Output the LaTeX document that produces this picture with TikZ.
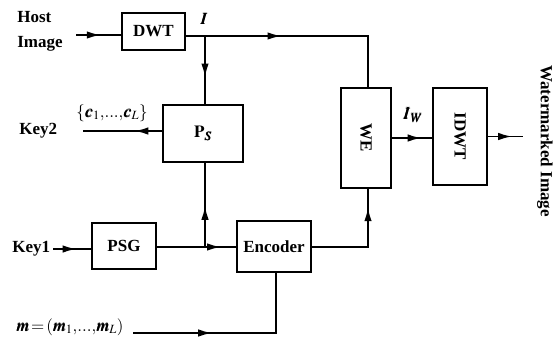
\documentclass[tikz,border=0pt]{standalone}
\usepackage{mathptmx}
\usepackage{bm}
\usepackage{fontspec}
\setmainfont{Liberation Serif}
\usetikzlibrary{arrows.meta, decorations.markings}

\begin{document}
\begin{tikzpicture}[x=1pt, y=-1pt, line width=1.9pt, font=\fontsize{17}{19}\selectfont\bfseries,
  blk/.style={draw, inner sep=0pt},
  arr/.style={postaction={decorate}, decoration={markings, mark=at position #1 with {\arrow{Latex[length=14pt,width=7.5pt]}}}}]
\useasboundingbox (0,0) rectangle (556,341);
\node[blk, minimum width=63pt, minimum height=37pt] (dwt) at (153.5,31.5) {DWT};
\node[blk, minimum width=80pt, minimum height=57pt] (ps) at (203,133.5) {$\mathbf{P}_{\bm{S}}$};
\node[blk, minimum width=50pt, minimum height=100pt] (we) at (366,138) {\rotatebox{-90}{WE}};
\node[blk, minimum width=54pt, minimum height=97pt] (idwt) at (460,136.5) {\rotatebox{-90}{IDWT}};
\node[blk, minimum width=64pt, minimum height=46pt] (psg) at (124,246) {PSG};
\node[blk, minimum width=74pt, minimum height=51pt] (enc) at (274,246.5) {Encoder};
\node[anchor=west] (host) at (13,17) {Host};
\node[anchor=west] (img) at (13,44) {Image};
\node (ilbl) at (204,19) {$\bm{I}$};
\node (clbl) at (112,113) {$\{\bm{c}_1,\!...,\!\bm{c}_L\}$};
\node[anchor=west] (key2) at (15,131) {Key2};
\node (iwlbl) at (413,115) {$\bm{I}_{\bm{W}}$};
\node[anchor=west] (key1) at (8,249) {Key1};
\node[anchor=west] (mlbl) at (12,327) {$\bm{m}\!=\!(\bm{m}_1,\!...,\!\bm{m}_L)$};
\node (out) at (545,141) {\rotatebox{-90}{Watermarked Image}};
\coordinate (hin) at (76,35);
\coordinate (j1) at (205,36);
\coordinate (c1) at (368,36);
\coordinate (k2) at (83,131);
\coordinate (k1) at (53,249);
\coordinate (j2) at (205,247);
\coordinate (c2) at (368,247);
\coordinate (min) at (133,333);
\coordinate (c3) at (276,333);
\coordinate (wout) at (523,136.5);
\draw[arr=0.55] (hin) -- (hin -| dwt.west);
\draw[arr=0.41] (dwt.east |- j1) -- (c1) -- (c1 |- we.north);
\draw[arr=0.61] (j1) -- (j1 |- ps.north);
\draw[arr=0.35] (ps.west |- k2) -- (k2);
\draw[arr=0.62] (k1) -- (k1 -| psg.west);
\draw[arr=0.81] (psg.east |- j2) -- (j2 -| enc.west);
\draw[arr=0.49] (j2) -- (j2 |- ps.south);
\draw[arr=0.84] (enc.east |- c2) -- (c2) -- (c2 |- we.south);
\draw[arr=0.39] (min) -- (c3) -- (c3 |- enc.south);
\draw[arr=0.74] (we.east) -- (we.east -| idwt.west);
\draw[arr=0.69] (idwt.east) -- (wout);
\end{tikzpicture}
\end{document}
